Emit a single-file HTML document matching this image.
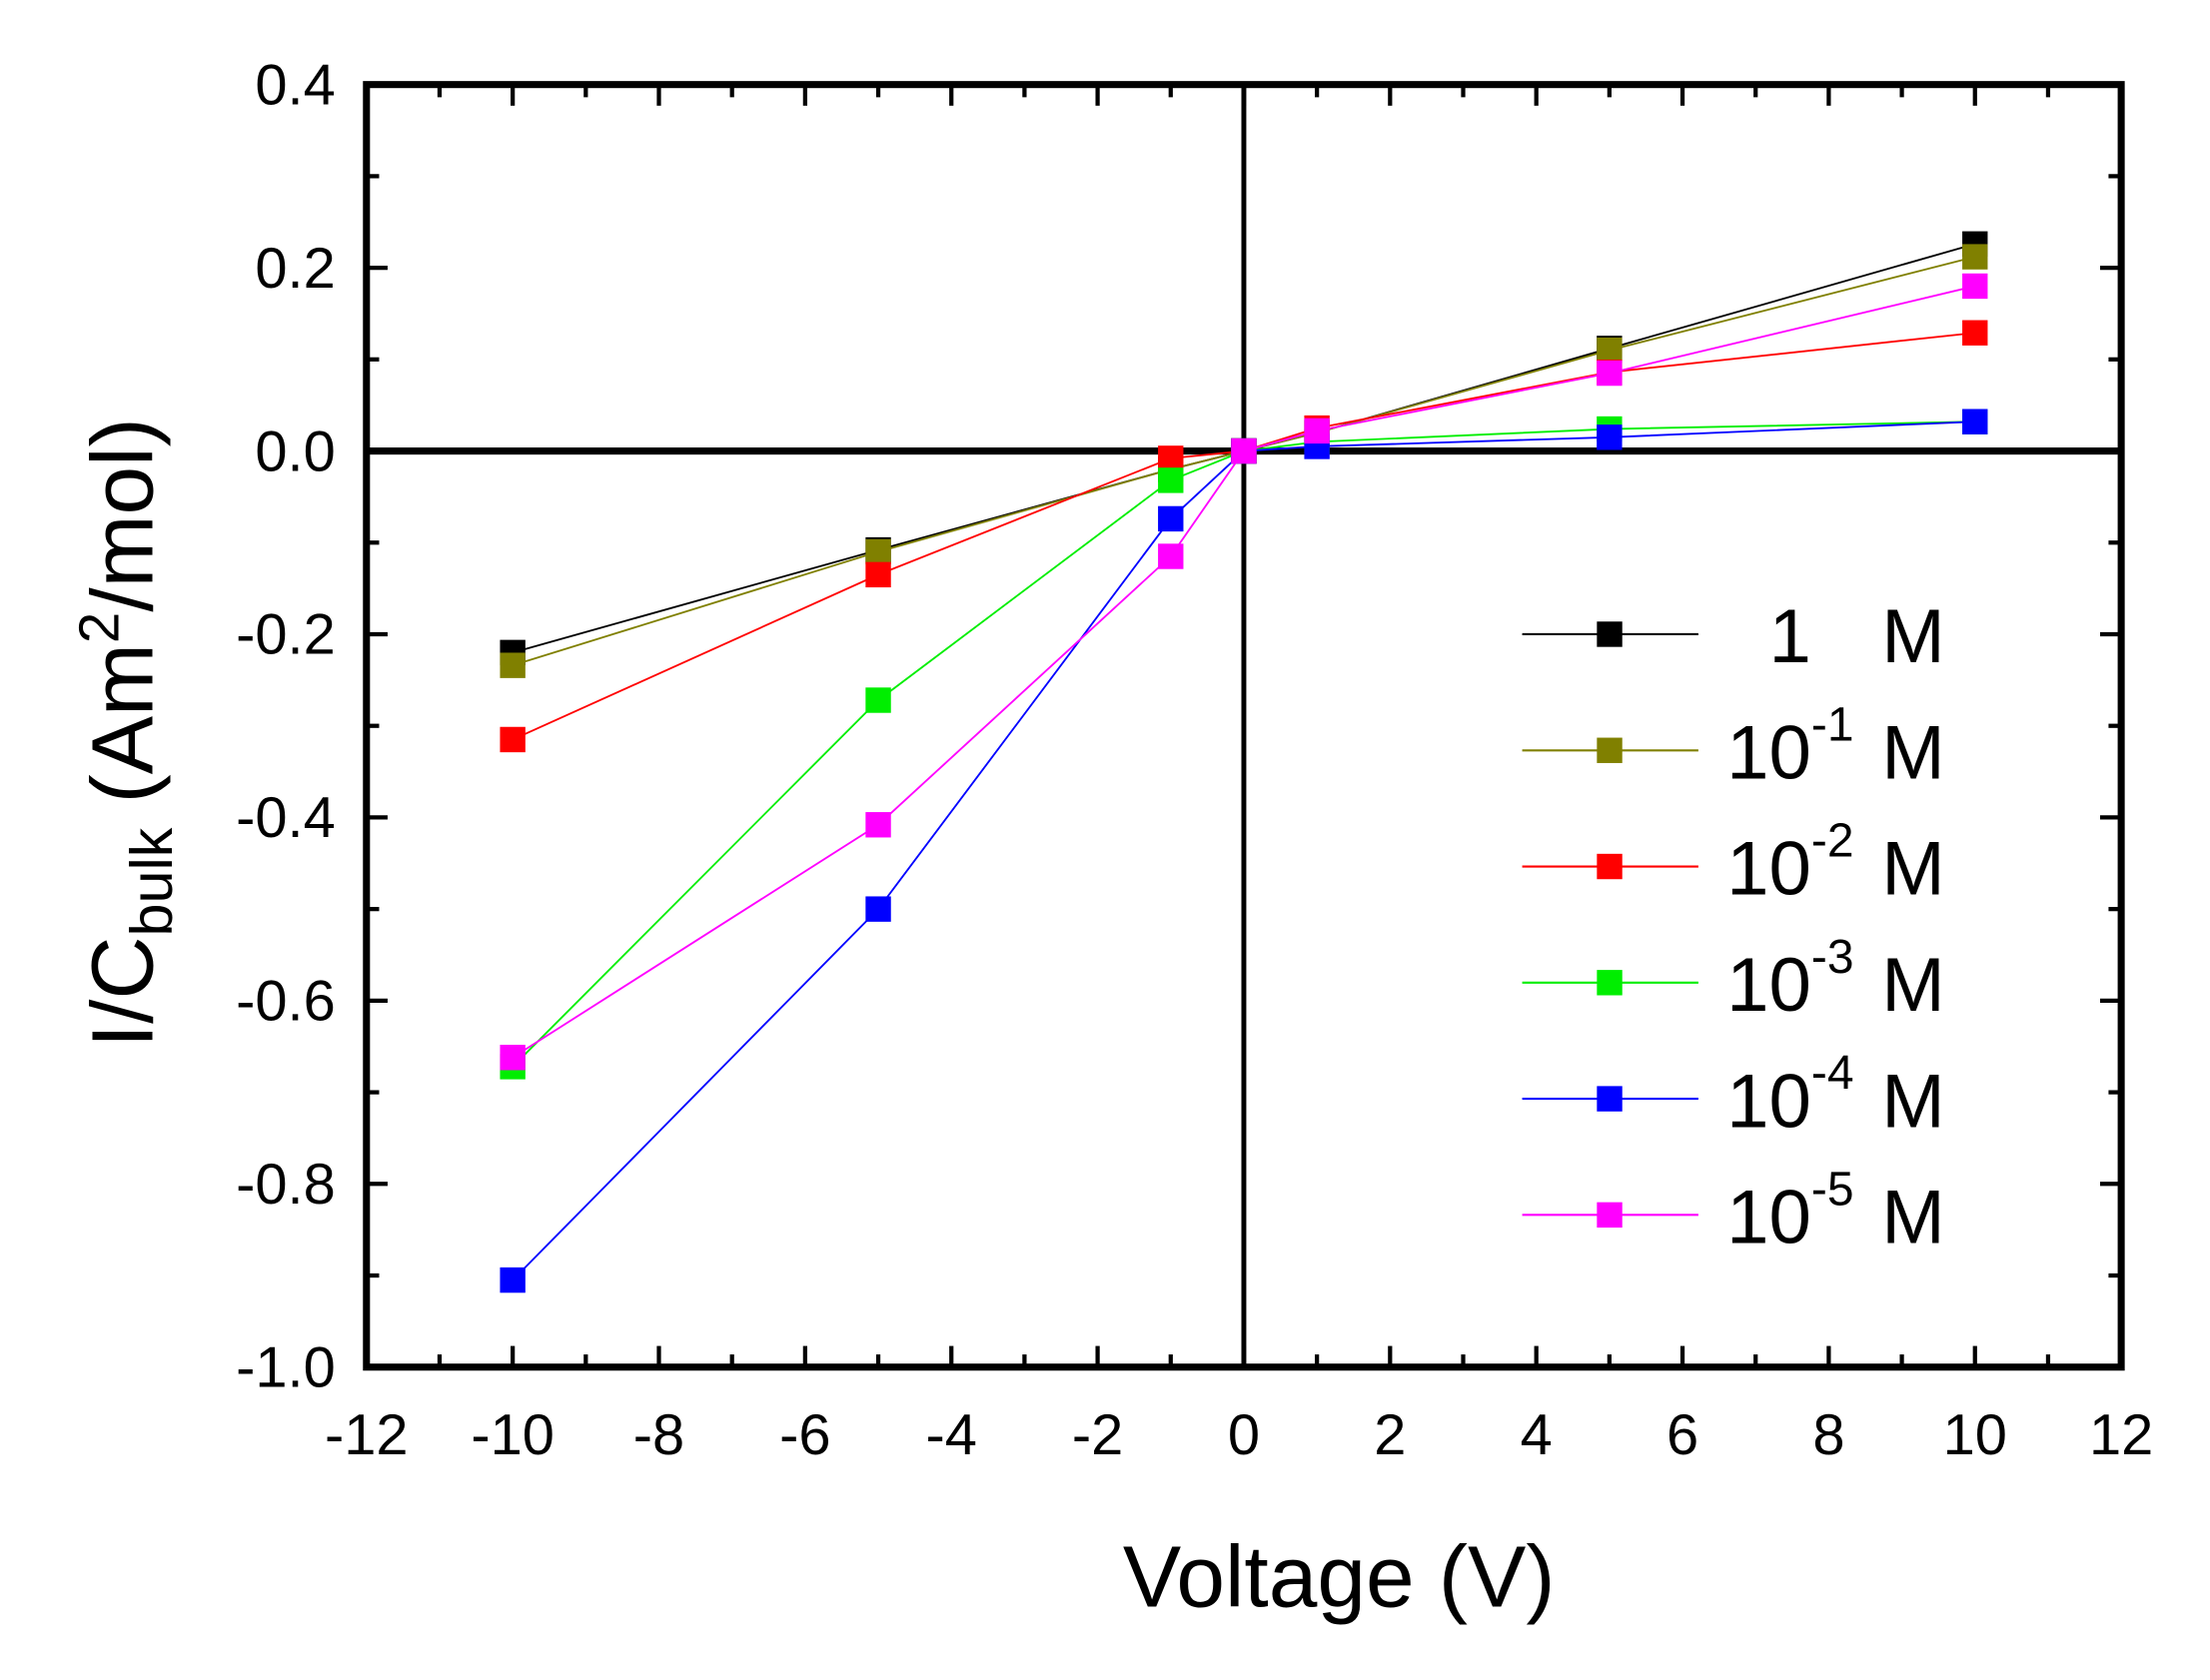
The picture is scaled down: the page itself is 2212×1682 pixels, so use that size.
<!DOCTYPE html>
<html><head><meta charset="utf-8"><style>html,body{margin:0;padding:0;background:#fff}svg{display:block}</style></head>
<body>
<svg id="chart" width="2212" height="1682" viewBox="0 0 1568 1192" preserveAspectRatio="none" xmlns="http://www.w3.org/2000/svg" font-family="Liberation Sans, Arial, sans-serif">
<rect width="1568" height="1192" fill="#fff"/>
<g id="grid"></g>
<g id="series"></g>
<g id="legend"></g>
<text x="950" y="1140" font-size="62" text-anchor="middle">Voltage (V)</text>
<text transform="translate(108,520) rotate(-90)" font-size="62" text-anchor="middle">I/C<tspan font-size="42" dy="14">bulk</tspan><tspan dy="-14"> (Am</tspan><tspan font-size="40" dy="-24">2</tspan><tspan dy="24">/mol)</tspan></text>
</svg>
<script>
const xCats = [-10, -5, -1, 0, 1, 5, 10];
const seriesNames = ["1 M", "10^-1 M", "10^-2 M", "10^-3 M", "10^-4 M", "10^-5 M"];
const seriesColors = ["#000000", "#808000", "#ff0000", "#00ee00", "#0000ff", "#ff00ff"];
const s1 = [-0.22, -0.108, -0.02, 0, 0.02, 0.112, 0.226];
const s2 = [-0.234, -0.11, -0.02, 0, 0.02, 0.11, 0.212];
const s3 = [-0.315, -0.135, -0.008, 0, 0.025, 0.086, 0.129];
const s4 = [-0.672, -0.272, -0.032, 0, 0.01, 0.024, 0.032];
const s5 = [-0.905, -0.5, -0.074, 0, 0.005, 0.015, 0.032];
const s6 = [-0.662, -0.408, -0.115, 0, 0.022, 0.085, 0.18];
const xTicks = [-12, -10, -8, -6, -4, -2, 0, 2, 4, 6, 8, 10, 12];
const yTicks = [0.4, 0.2, 0.0, -0.2, -0.4, -0.6, -0.8, -1.0];
const legendSup = ["", "-1", "-2", "-3", "-4", "-5"];

const NS = "http://www.w3.org/2000/svg";
const L = 260, R = 1505, T = 60, B = 970;
const xs = v => L + (v + 12) / 24 * (R - L);
const ys = v => T + (0.4 - v) / 1.4 * (B - T);
function mk(tag, attrs, parent) {
  const e = document.createElementNS(NS, tag);
  for (const k in attrs) e.setAttribute(k, attrs[k]);
  parent.appendChild(e);
  return e;
}
const grid = document.getElementById("grid");
let z = mk("line", {x1: L, x2: R, y1: ys(0), y2: ys(0), stroke: "#000", "stroke-width": 5}, grid);


z = mk("line", {x1: xs(0), x2: xs(0), y1: T, y2: B, stroke: "#000", "stroke-width": 3.5}, grid);


for (let v = -12; v <= 12; v++) {
  const x = xs(v), len = v % 2 === 0 ? 15 : 9;
  mk("line", {x1: x, x2: x, y1: B, y2: B - len, stroke: "#000", "stroke-width": 3}, grid);
  mk("line", {x1: x, x2: x, y1: T, y2: T + len, stroke: "#000", "stroke-width": 3}, grid);
}
for (let i = 0; i <= 14; i++) {
  const v = 0.4 - i * 0.1, y = ys(v), len = i % 2 === 0 ? 15 : 9;
  mk("line", {x1: L, x2: L + len, y1: y, y2: y, stroke: "#000", "stroke-width": 3}, grid);
  mk("line", {x1: R, x2: R - len, y1: y, y2: y, stroke: "#000", "stroke-width": 3}, grid);
}
xTicks.forEach(v => {
  const t = mk("text", {x: xs(v), y: 1032, "font-size": 41, "text-anchor": "middle"}, grid);
  
  
  t.textContent = String(v);
});
yTicks.forEach(v => {
  const t = mk("text", {x: 238, y: ys(v) + 14, "font-size": 41, "text-anchor": "end"}, grid);
  
  
  t.textContent = v.toFixed(1);
});
const frame = mk("rect", {x: L, y: T, width: R - L, height: B - T, fill: "none", stroke: "#000", "stroke-width": 5}, grid);



const sg = document.getElementById("series");
const all = [s1, s2, s3, s4, s5, s6];
all.forEach((s, i) => {
  const g = mk("g", {}, sg);
  
  
  mk("polyline", {points: s.map((v, j) => xs(xCats[j]) + "," + ys(v)).join(" "), fill: "none", stroke: seriesColors[i], "stroke-width": 1.3}, g);
  s.forEach((v, j) => {
    const m = mk("rect", {x: xs(xCats[j]) - 9, y: ys(v) - 9, width: 18, height: 18, fill: seriesColors[i]}, g);
    
    
  });
});

const lg = document.getElementById("legend");
seriesNames.forEach((n, i) => {
  const y = 450 + i * 82.4;
  const g = mk("g", {}, lg);
  
  
  mk("line", {x1: 1080, x2: 1205, y1: y, y2: y, stroke: seriesColors[i], "stroke-width": 1.5}, g);
  mk("rect", {x: 1133, y: y - 9, width: 18, height: 18, fill: seriesColors[i]}, g);
  const t = mk("text", {x: 1225, y: y + 20, "font-size": 54}, g);
  if (i === 0) {
    t.innerHTML = '<tspan x="1255">1</tspan><tspan x="1335">M</tspan>';
  } else {
    t.innerHTML = '10<tspan font-size="34" dy="-27">' + legendSup[i] + '</tspan><tspan x="1335" dy="27">M</tspan>';
  }
});
</script>
</body></html>
